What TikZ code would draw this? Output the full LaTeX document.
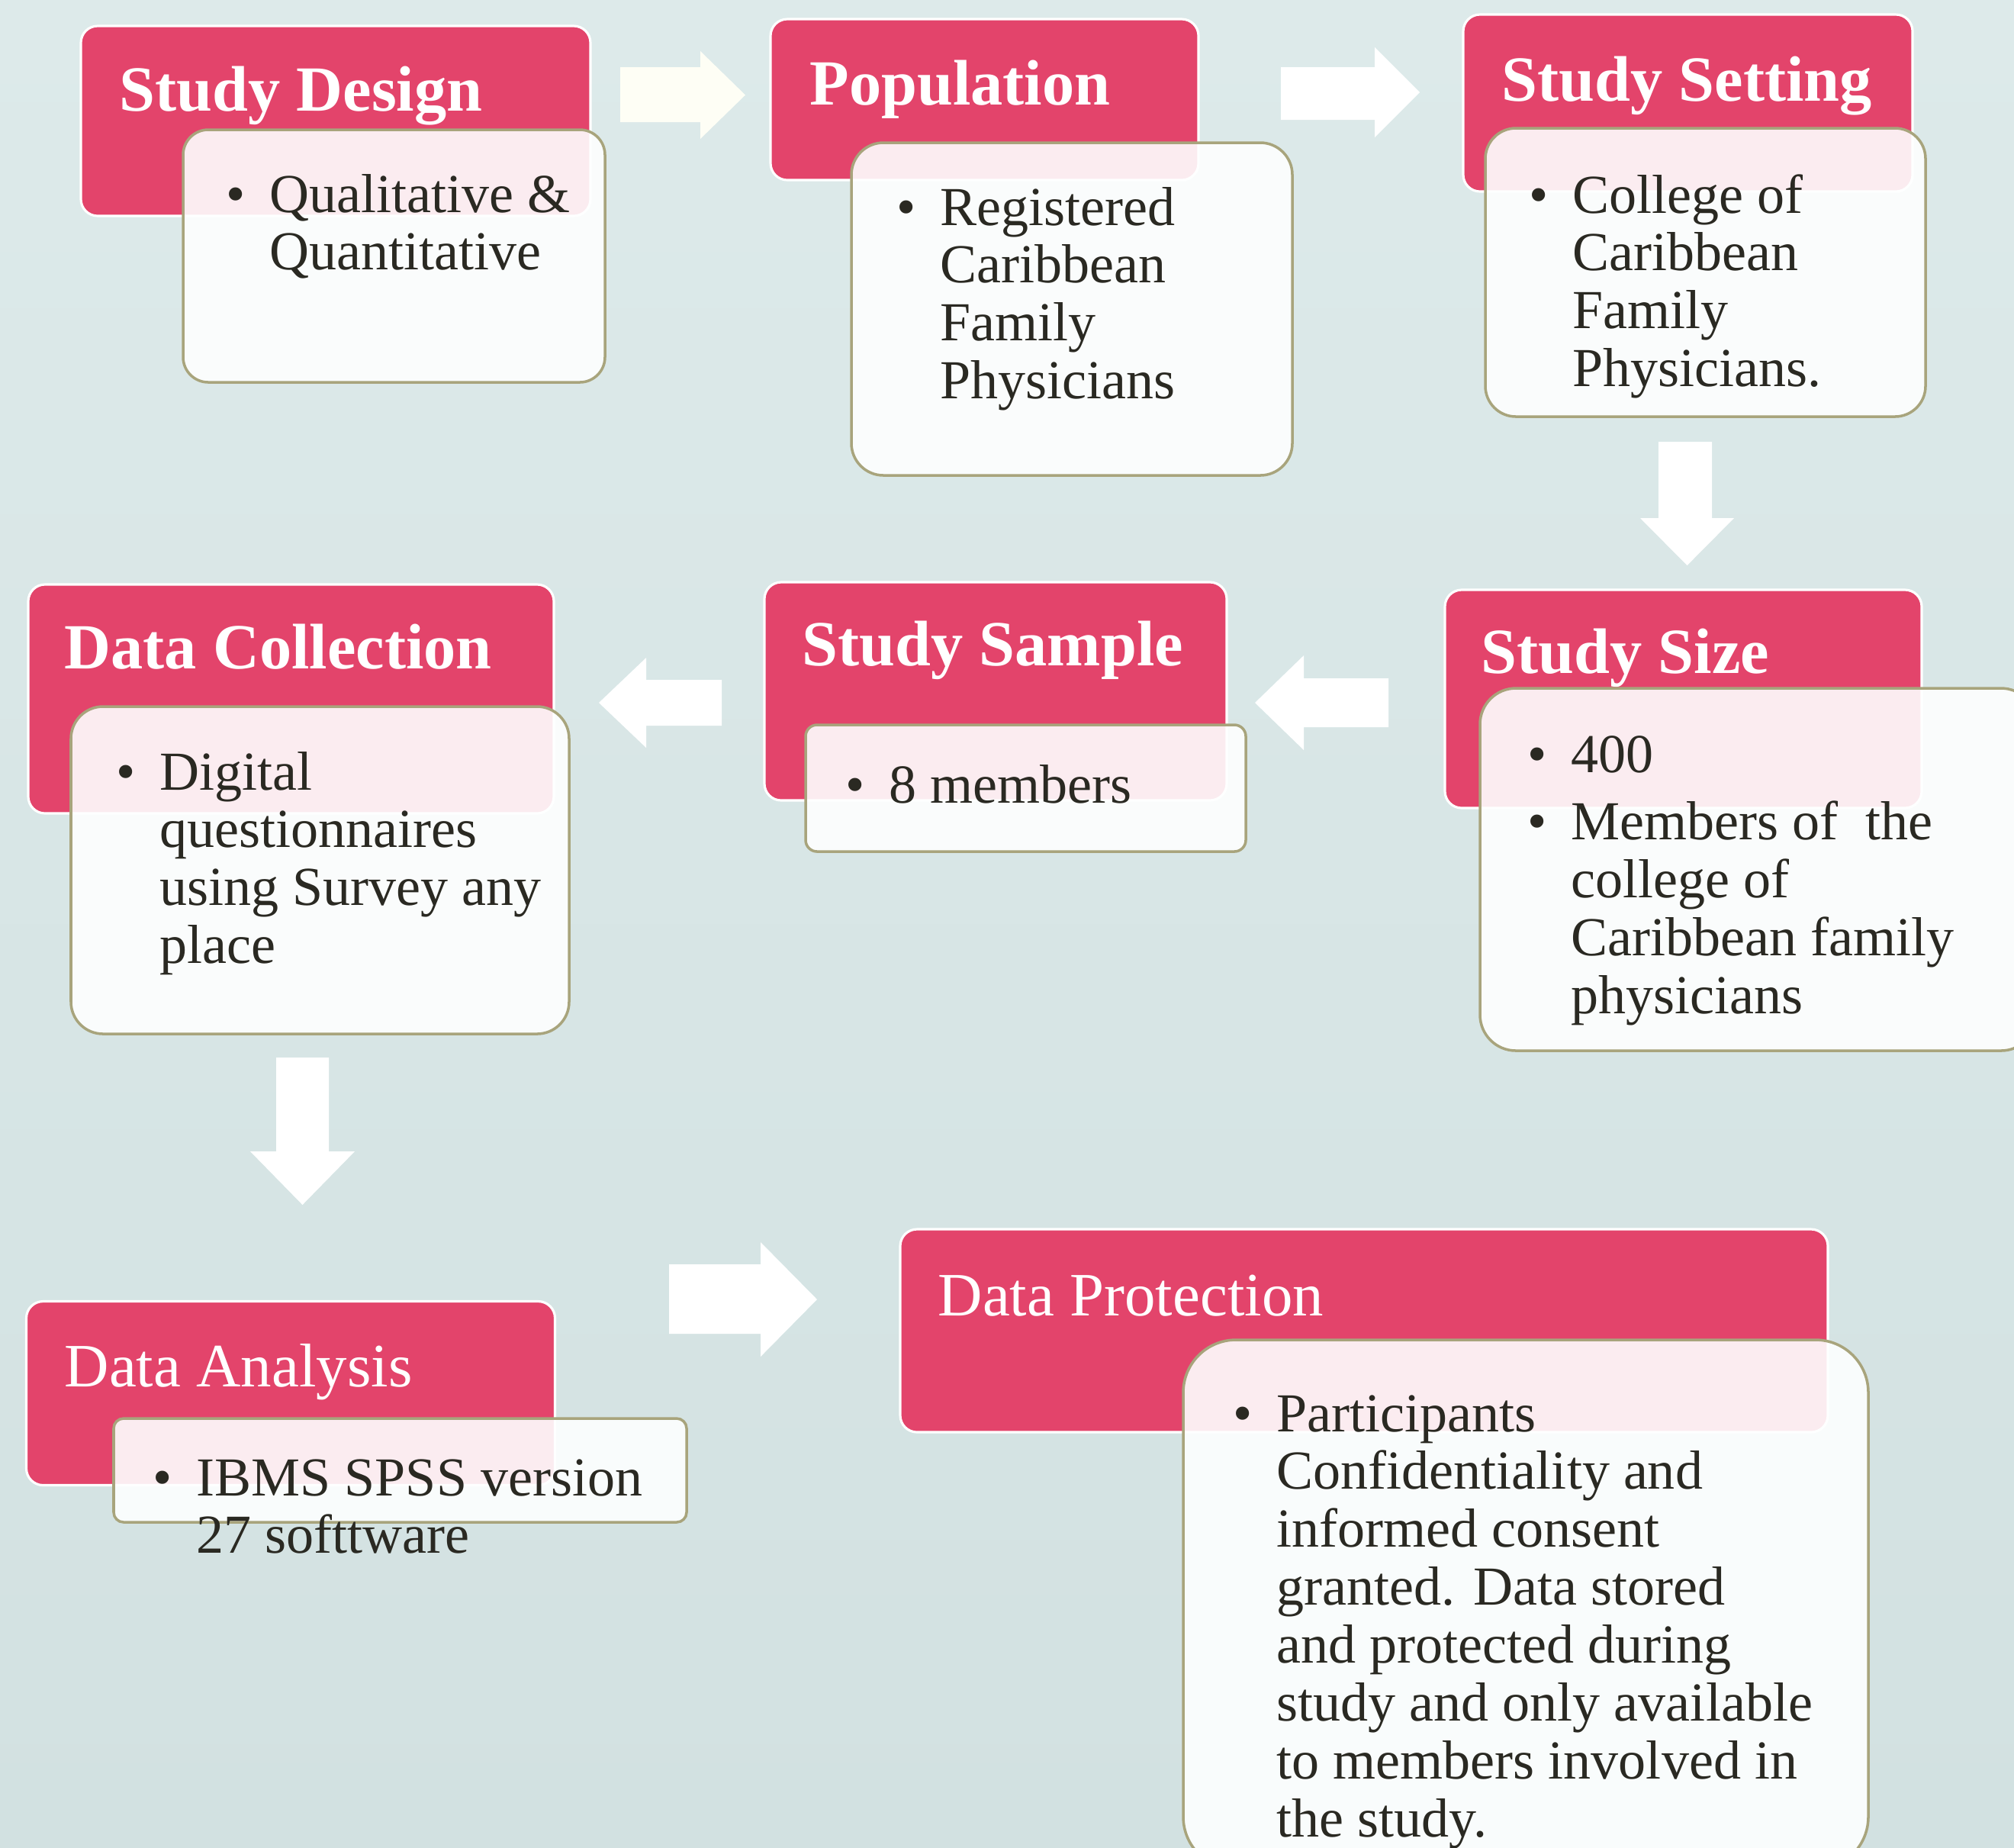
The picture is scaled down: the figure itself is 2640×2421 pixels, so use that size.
\documentclass[tikz,border=0pt]{standalone}
\usepackage{fontspec}
\setmainfont{Liberation Serif}

\definecolor{bgtop}{HTML}{DDEAEA}
\definecolor{bgbot}{HTML}{D2E1E1}
\definecolor{rose}{HTML}{E3446B}
\definecolor{paper}{HTML}{FEFFFF}
\definecolor{khaki}{HTML}{A8A47C}
\definecolor{ink}{HTML}{2A2922}
\definecolor{cream}{HTML}{FEFEF5}

% bullet list: one row per printed line
\newcommand{\pts}[1]{\begin{tabular}[t]{@{}p{0.57cm}@{}l@{}}#1\end{tabular}}

\begin{document}
\begin{tikzpicture}[x=0.1mm,y=-0.1mm,
  headbox/.style={fill=rose,draw=white,line width=0.9pt,rounded corners=0.22cm,inner sep=0pt},
  notebox/.style={fill=paper,fill opacity=0.9,draw=khaki,line width=1pt,rounded corners=#1,inner sep=0pt},
  notebox/.default=0.35cm,
  headtext/.style={text=white,font=\fontsize{24}{28}\selectfont\bfseries,inner sep=0pt,anchor=base west},
  headplain/.style={text=white,font=\fontsize{23}{27}\selectfont,inner sep=0pt,anchor=base west},
  notetext/.style={text=ink,font=\fontsize{20.5}{21.6}\selectfont,inner sep=0pt,anchor=base west},
  blockarrow/.style={fill=white}]

 \useasboundingbox (0,0) rectangle (2640,2421);
 \clip (0,0) rectangle (2640,2421);
 \shade[top color=bgtop,bottom color=bgbot] (0,0) rectangle (2640,2421);

 %% row 1
 \node[headbox,minimum width=6.68cm,minimum height=2.49cm] (designhead) at (440,158.5) {};
 \node[headtext] (designtitle) at (156,145) {Study Design};
 \node[notebox=0.33cm,minimum width=5.53cm,minimum height=3.31cm] (designbox) at (516.5,335.5) {};
 \node[notetext] (designlist) at (296,278) {\pts{\textbullet & Qualitative \&\\ & Quantitative}};

 \node[headbox,minimum width=5.61cm,minimum height=2.11cm] (pophead) at (1290.5,130.5) {};
 \node[headtext] (poptitle) at (1061,137) {Population};
 \node[notebox=0.42cm,minimum width=5.78cm,minimum height=4.36cm] (popbox) at (1405,405) {};
 \node[notetext] (poplist) at (1175,295) {\pts{\textbullet & Registered\\ & Caribbean\\ & Family\\ & Physicians}};

 \node[headbox,minimum width=5.89cm,minimum height=2.32cm] (sethead) at (2212.5,135) {};
 \node[headtext] (settitle) at (1968,132) {Study Setting};
 \node[notebox=0.4cm,minimum width=5.77cm,minimum height=3.78cm] (setbox) at (2235.5,357) {};
 \node[notetext] (setlist) at (2004,279) {\pts{\textbullet & College of\\ & Caribbean\\ & Family\\ & Physicians.}};

 %% row 2
 \node[headbox,minimum width=6.25cm,minimum height=2.86cm] (sizehead) at (2206.5,916) {};
 \node[headtext] (sizetitle) at (1941,882) {Study Size};
 \node[notebox=0.47cm,minimum width=7.3cm,minimum height=4.75cm] (sizebox) at (2305,1139.5) {};
 \node[notetext] (sizelist) at (2002,1012) {\pts{\textbullet & 400\\[3.7pt] \textbullet & Members of\ \ the\\ & college of\\ & Caribbean family\\ & physicians}};

 \node[headbox,minimum width=6.06cm,minimum height=2.86cm] (samplehead) at (1305,906) {};
 \node[headtext] (sampletitle) at (1051,872) {Study Sample};
 \node[notebox=0.15cm,minimum width=5.77cm,minimum height=1.66cm] (samplebox) at (1344.5,1033) {};
 \node[notetext] (samplelist) at (1108,1052) {\pts{\textbullet & 8 members}};

 \node[headbox,minimum width=6.89cm,minimum height=3cm] (collhead) at (381.5,916) {};
 \node[headtext] (colltitle) at (84,876) {Data Collection};
 \node[notebox=0.42cm,minimum width=6.53cm,minimum height=4.29cm] (collbox) at (419.5,1140.5) {};
 \node[notetext] (colllist) at (152,1035) {\pts{\textbullet & Digital\\ & questionnaires\\ & using Survey any\\ & place}};

 %% row 3
 \node[headbox,minimum width=6.93cm,minimum height=2.41cm] (anahead) at (381,1826) {};
 \node[headplain] (anatitle) at (84,1817) {Data Analysis};
 \node[notebox=0.13cm,minimum width=7.51cm,minimum height=1.36cm] (anabox) at (524.5,1927) {};
 \node[notetext] (analist) at (200,1960) {\pts{\textbullet & IBMS SPSS version\\ & 27 softtware}};

 \node[headbox,minimum width=12.16cm,minimum height=2.66cm] (prothead) at (1788,1744) {};
 \node[headplain] (protitle) at (1229,1724) {Data Protection};
 \node[notebox=0.69cm,minimum width=8.98cm,minimum height=6.94cm] (probox) at (2000,2103) {};
 \node[notetext] (prolist) at (1616,1876) {\pts{\textbullet & Participants\\ & Confidentiality and\\ & informed consent\\ & granted. Data stored\\ & and protected during\\ & study and only available\\ & to members involved in\\ & the study.}};

 %% block arrows between the steps
 \fill[blockarrow,fill=cream] (813,88) -- (918,88) -- (918,67) -- (977,124.5) -- (918,182) -- (918,160) -- (813,160) -- cycle;
 \fill[blockarrow] (1679,88) -- (1802,88) -- (1802,62) -- (1861,121) -- (1802,180) -- (1802,157) -- (1679,157) -- cycle;
 \fill[blockarrow] (2174,579) -- (2244,579) -- (2244,679) -- (2273,679) -- (2211.5,741) -- (2150,679) -- (2174,679) -- cycle;
 \fill[blockarrow] (1820,889) -- (1709,889) -- (1709,859) -- (1645,921) -- (1709,983) -- (1709,953) -- (1820,953) -- cycle;
 \fill[blockarrow] (946,891) -- (847,891) -- (847,862) -- (785,921) -- (847,980) -- (847,951) -- (946,951) -- cycle;
 \fill[blockarrow] (362,1386) -- (431,1386) -- (431,1509) -- (465,1509) -- (396.5,1579) -- (328,1509) -- (362,1509) -- cycle;
 \fill[blockarrow] (877,1657) -- (997,1657) -- (997,1628) -- (1071,1703) -- (997,1778) -- (997,1748) -- (877,1748) -- cycle;

\end{tikzpicture}
\end{document}
